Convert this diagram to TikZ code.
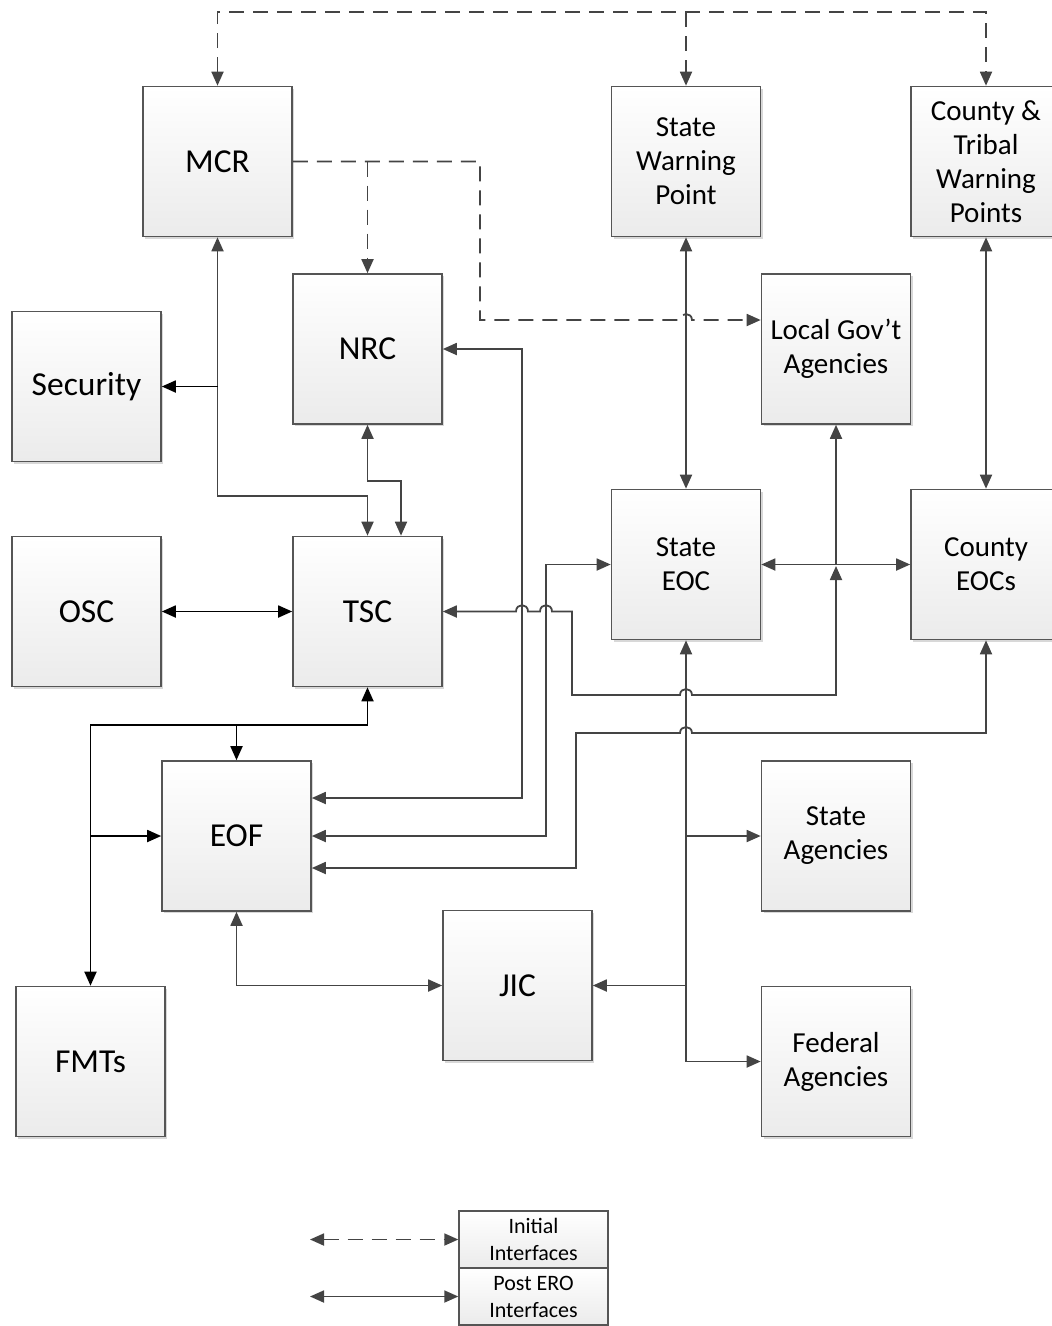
\documentclass[tikz,border=0pt]{standalone}
\usepackage{fontspec}
\setmainfont{Carlito}
\usetikzlibrary{arrows.meta,shadows,calc}
\definecolor{lncol}{HTML}{444444}
\definecolor{bordercol}{HTML}{555555}
\definecolor{botcol}{HTML}{EBEBEB}
\begin{document}
\begin{tikzpicture}[x=1pt,y=-1pt,
  box/.style={draw=bordercol,line width=1.6pt,top color=white,bottom color=botcol,
    minimum width=149pt,minimum height=150pt,inner sep=0pt,align=center,
    font=\fontsize{29}{34}\selectfont,
    drop shadow={shadow xshift=2pt,shadow yshift=-2pt,fill=black!30,opacity=.5}},
  bigtxt/.style={font=\fontsize{33.5}{38}\selectfont},
  legbox/.style={draw=bordercol,line width=1.4pt,top color=white,bottom color=botcol,
    minimum width=149pt,minimum height=57pt,inner sep=0pt,align=center,
    font=\fontsize{22}{27}\selectfont},
  ln/.style={draw=lncol,line width=1.8pt},
  lnb/.style={draw=black,line width=1.8pt},
  dsh/.style={draw=lncol,line width=1.8pt,dash pattern=on 15pt off 9pt},
  >={Triangle[length=14pt,width=12pt]}
]
\useasboundingbox (0,0) rectangle (1052,1326);
% nodes
\node[box,bigtxt] (MCR) at (217.5,161.5) {MCR};
\node[box] (SWP) at (686,161.5) {State\\Warning\\Point};
\node[box,minimum width=150pt] (CTWP) at (986,161.5) {County \&\\Tribal\\Warning\\Points};
\node[box,bigtxt] (NRC) at (367.5,349) {NRC};
\node[box] (LGA) at (836,349) {Local Gov’t\\Agencies};
\node[box,bigtxt] (SEC) at (86.5,386.5) {Security};
\node[box,bigtxt] (OSC) at (86.5,611.5) {OSC};
\node[box,bigtxt] (TSC) at (367.5,611.5) {TSC};
\node[box] (SEOC) at (686,564.5) {State\\EOC};
\node[box,minimum width=150pt] (CEOC) at (986,564.5) {County\\EOCs};
\node[box,bigtxt] (EOF) at (236.5,836) {EOF};
\node[box] (SAG) at (836,836) {State\\Agencies};
\node[box,bigtxt] (JIC) at (517.5,985.5) {JIC};
\node[box,bigtxt] (FMT) at (90.5,1061.5) {FMTs};
\node[box] (FED) at (836,1061.5) {Federal\\Agencies};
\node[legbox] (L1) at (533.5,1239.5) {Initial\\Interfaces};
\node[legbox] (L2) at (533.5,1296.5) {Post ERO\\Interfaces};
\coordinate (topbus) at (0,12);
\coordinate (lg1) at (310,1239.5);
\coordinate (lg2) at (310,1296.5);
\coordinate (lgjct) at (836,564.5);
% dashed initial interfaces
\draw[dsh,<->] (MCR.north) -- (MCR.north |- topbus) -- (CTWP.north |- topbus) -- (CTWP.north);
\draw[dsh,->] (SWP.north |- topbus) -- (SWP.north);
\draw[dsh,->] (MCR.east) -- (480,161.5) -- (480,320) -- (680,320)
  .. controls (680,312) and (692,312) .. (692,320) -- (LGA.west |- 0,320);
\draw[dsh,->] (NRC.north |- MCR.east) -- (NRC.north);
% solid post ERO interfaces
\draw[ln,<->] (MCR.south) -- (MCR.south |- 0,496) -- (TSC.north |- 0,496) -- (TSC.north);
\draw[lnb,->] (MCR.south |- SEC.east) -- (SEC.east);
\draw[ln,<->] (NRC.south) -- (367.5,481) -- (401,481) -- (401,0 |- TSC.north);
\draw[lnb,<->] (OSC.east) -- (TSC.west);
\draw[ln,<->] (SWP.south) -- (SEOC.north);
\draw[ln,<->] (CTWP.south) -- (CEOC.north);
\draw[ln,<->] (SEOC.east) -- (CEOC.west);
\draw[ln,->] (lgjct) -- (LGA.south);
\draw[ln,<->] (TSC.east) -- (516,611.5) .. controls (516,603) and (528,603) .. (528,611.5)
  -- (540,611.5) .. controls (540,603) and (552,603) .. (552,611.5)
  -- (572,611.5) -- (572,695) -- (680,695) .. controls (680,687) and (692,687) .. (692,695)
  -- (836,695) -- ($(lgjct)+(0,1.5)$);
\draw[ln,<->] (NRC.east) -- (522,349) -- (522,798) -- (EOF.east |- 0,798);
\draw[ln,<->] (SEOC.west) -- (546,564.5) -- (546,836) -- (EOF.east);
\draw[ln,<->] (CEOC.south) -- (986,733) -- (692,733) .. controls (692,725) and (680,725) .. (680,733)
  -- (576,733) -- (576,868) -- (EOF.east |- 0,868);
\draw[ln,<->] (SEOC.south) -- (686,1061.5) -- (FED.west);
\draw[ln,->] (686,836) -- (SAG.west);
\draw[ln,->] (686,985.5) -- (JIC.east);
\draw[ln,<->] (EOF.south) -- (236.5,985.5) -- (JIC.west);
\draw[lnb,<->] (TSC.south) -- (367.5,725) -- (90.5,725) -- (FMT.north);
\draw[lnb,->] (EOF.north |- 0,725) -- (EOF.north);
\draw[lnb,->] (90.5,836) -- (EOF.west);
% legend
\draw[dsh,<->] (lg1) -- (L1.west);
\draw[ln,<->] (lg2) -- (L2.west);
\end{tikzpicture}
\end{document}
